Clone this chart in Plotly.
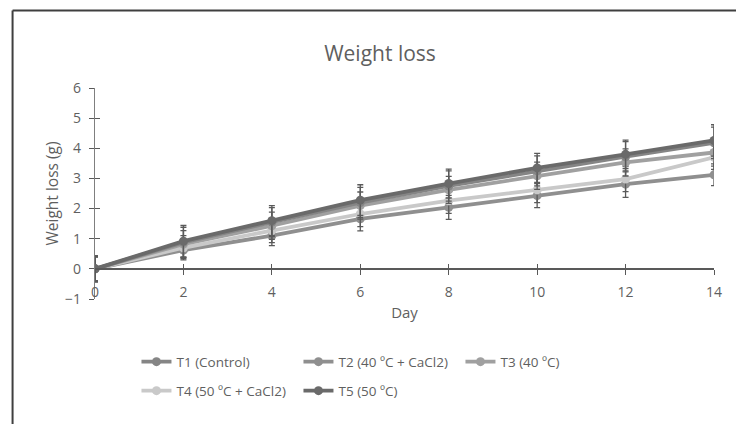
import plotly.graph_objects as go

days = [0, 2, 4, 6, 8, 10, 12, 14]
series_names = ["T1 (Control)", "T2 (40 ºC + CaCl2)", "T3 (40 ºC)", "T4 (50 ºC + CaCl2)", "T5 (50 ºC)"]
t1 = [0, 0.88, 1.55, 2.20, 2.75, 3.25, 3.72, 4.18]
t2 = [0, 0.62, 1.10, 1.66, 2.04, 2.43, 2.81, 3.12]
t3 = [0, 0.82, 1.43, 2.10, 2.62, 3.09, 3.53, 3.86]
t4 = [0, 0.70, 1.27, 1.82, 2.26, 2.62, 2.98, 3.70]
t5 = [0, 0.92, 1.60, 2.28, 2.83, 3.35, 3.80, 4.26]
err_t1 = [0.40, 0.50, 0.48, 0.50, 0.50, 0.50, 0.50, 0.52]
err_t2 = [0.42, 0.28, 0.33, 0.40, 0.40, 0.40, 0.44, 0.36]
err_t3 = [0.40, 0.45, 0.45, 0.45, 0.45, 0.45, 0.45, 0.45]
err_t4 = [0.40, 0.40, 0.40, 0.42, 0.42, 0.42, 0.42, 0.40]
err_t5 = [0.44, 0.52, 0.50, 0.51, 0.48, 0.48, 0.47, 0.52]
colors = ["#858585", "#8f8f8f", "#a0a0a0", "#c9c9c9", "#6a6a6a"]
legend_of = ["legend", "legend", "legend", "legend2", "legend2"]

values = [t1, t2, t3, t4, t5]
errors = [err_t1, err_t2, err_t3, err_t4, err_t5]
draw_order = [1, 3, 2, 0, 4]

fig = go.Figure()
traces = {}
for i in range(5):
    traces[i] = go.Scatter(
        x=days, y=values[i], name=series_names[i], mode="lines+markers",
        line=dict(color=colors[i], width=3.8),
        marker=dict(color=colors[i], size=9),
        error_y=dict(type="data", array=errors[i], visible=True,
                     color="#5a5a5a", thickness=1.3, width=3),
        legendrank=i + 1, legend=legend_of[i],
    )
for i in draw_order:
    fig.add_trace(traces[i])

# invisible helper trace to activate overlay axes (cross-style ticks)
fig.add_trace(go.Scatter(x=[0], y=[0], xaxis="x2", yaxis="y2", showlegend=False,
                         mode="markers", marker=dict(opacity=0), hoverinfo="skip"))

font_family = "Open Sans, Lato, sans-serif"
tick_color = "#595959"
txt = "#5f5f5f"

W, H = 736, 416  # page has an 8px body margin
L, R, T, B = 86.5, 30, 79.7, 125
PW, PH = W - L - R, H - T - B

def px_x(screen_x):
    return (screen_x - 8 - L) / PW

def px_y(screen_y):
    return (H - B - (screen_y - 8)) / PH

fig.update_layout(
    width=W, height=H,
    margin=dict(l=L, r=R, t=T, b=B),
    paper_bgcolor="white", plot_bgcolor="white",
    font=dict(family=font_family, color=txt),
    title=dict(text="Weight loss", x=372 / W, xanchor="center", y=1 - 46 / H, yanchor="middle",
               font=dict(size=21, color=txt, family=font_family)),
    xaxis=dict(range=[0, 14], tickvals=days, ticktext=[str(d) for d in days],
               anchor="free", position=1 / 7, showline=True, linecolor="#595959", linewidth=1.5,
               ticks="outside", ticklen=5, tickwidth=1.3, tickcolor=tick_color,
               showgrid=False, zeroline=False, ticklabelstandoff=6,
               tickfont=dict(size=14, color=txt),
               title=dict(text="Day", font=dict(size=15, color=txt), standoff=6)),
    xaxis2=dict(range=[0, 14], overlaying="x", anchor="free", position=1 / 7,
                tickvals=days, ticks="inside", ticklen=5, tickwidth=1.3, tickcolor=tick_color,
                showticklabels=False, showgrid=False, zeroline=False, showline=False),
    yaxis=dict(range=[-1, 6], tickvals=[-1, 0, 1, 2, 3, 4, 5, 6], showline=True,
               linecolor="#7f7f7f", linewidth=1.3, ticks="outside", ticklen=5, tickwidth=1.3,
               tickcolor=tick_color, showgrid=False, zeroline=False,
               tickfont=dict(size=14, color=txt), ticklabelstandoff=5,
               title=dict(text="Weight loss (g)", font=dict(size=15.5, color=txt), standoff=2)),
    yaxis2=dict(range=[-1, 6], overlaying="y", anchor="x", side="left",
                tickvals=[-1, 0, 1, 2, 3, 4, 5, 6], ticks="inside", ticklen=5, tickwidth=1.3,
                tickcolor=tick_color, showticklabels=False, showgrid=False, zeroline=False,
                showline=False),
    legend=dict(orientation="h", x=px_x(136), xanchor="left", y=px_y(362), yanchor="middle",
                font=dict(size=13.5, color=txt), entrywidth=117, entrywidthmode="pixels",
                traceorder="normal", bgcolor="rgba(0,0,0,0)"),
    legend2=dict(orientation="h", x=px_x(136), xanchor="left", y=px_y(391), yanchor="middle",
                 font=dict(size=13.5, color=txt), entrywidth=117, entrywidthmode="pixels",
                 traceorder="normal", bgcolor="rgba(0,0,0,0)"),
    showlegend=True,
)

# outer frame (top and left edges of the original cropped chart border)
fig.add_shape(type="line", xref="paper", yref="paper", x0=px_x(12), x1=px_x(760),
              y0=px_y(10), y1=px_y(10), line=dict(color="#3f3f3f", width=2))
fig.add_shape(type="line", xref="paper", yref="paper", x0=px_x(12), x1=px_x(12),
              y0=px_y(10), y1=px_y(440), line=dict(color="#3f3f3f", width=2))

fig.write_html("out.html")
